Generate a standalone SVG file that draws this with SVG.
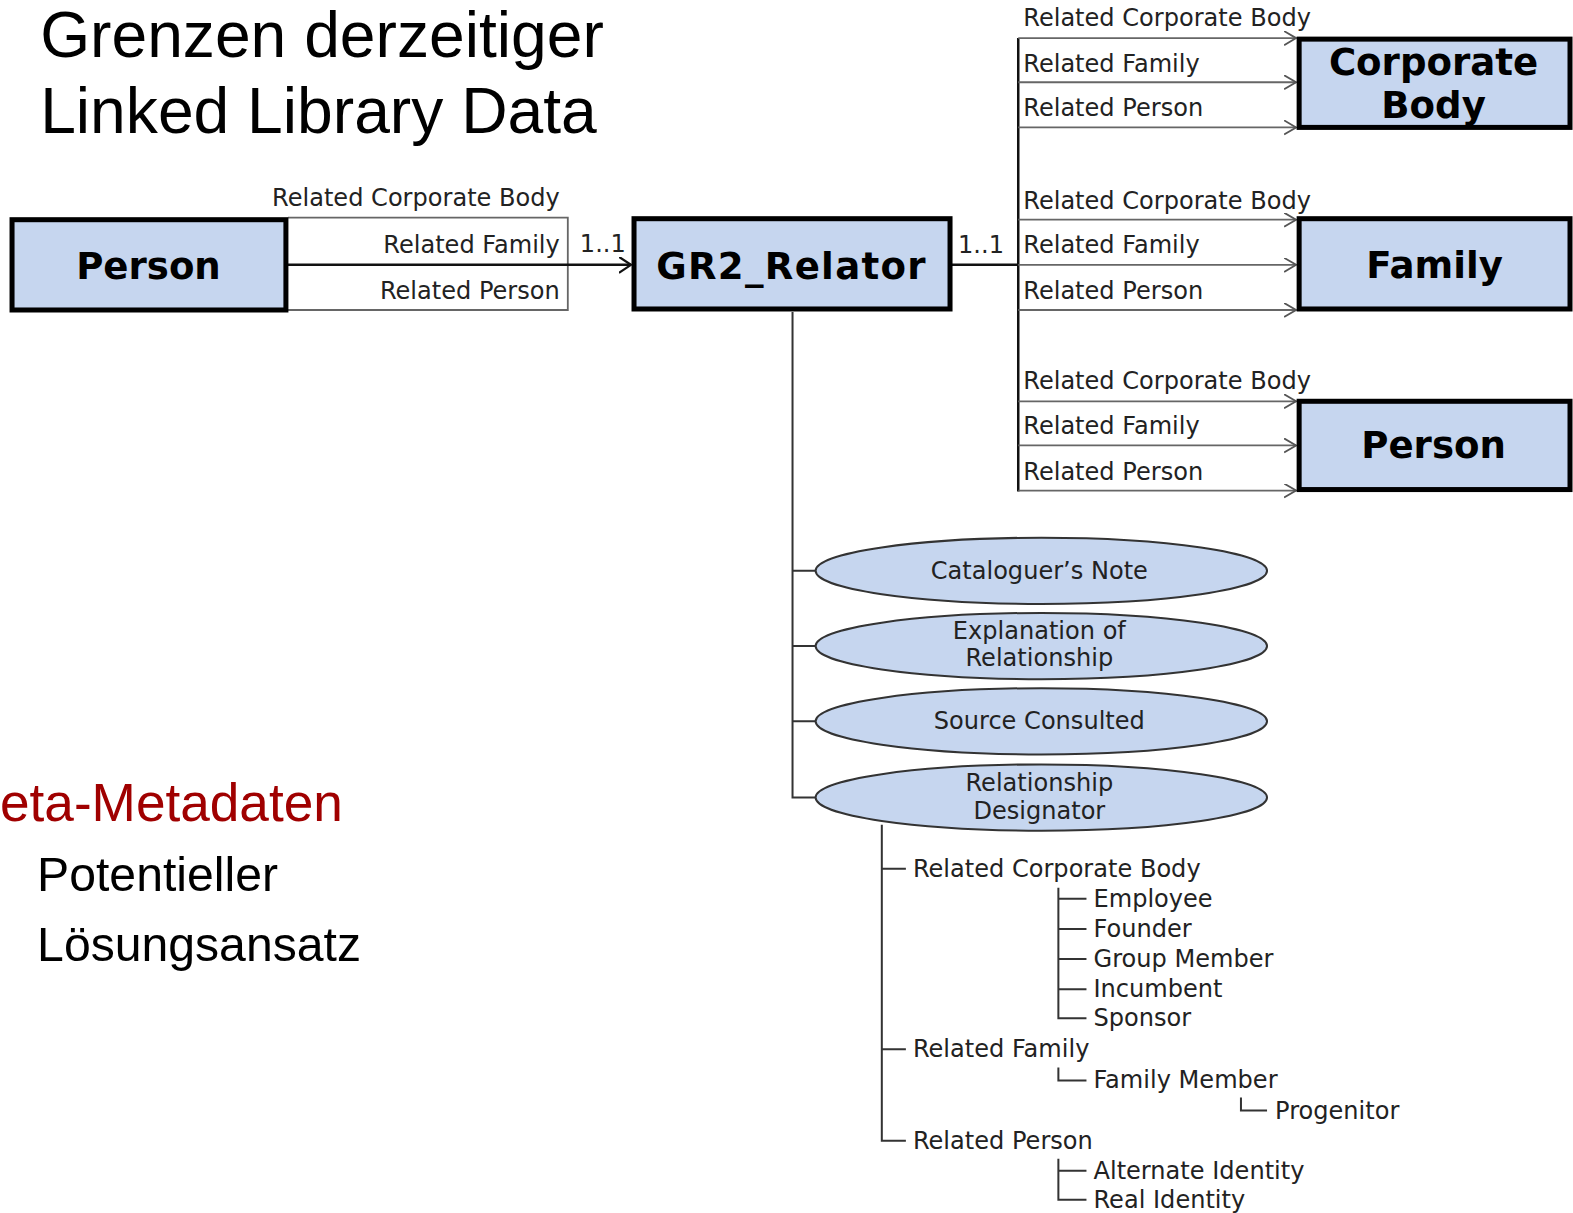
<svg xmlns="http://www.w3.org/2000/svg" width="1573" height="1213" viewBox="0 0 1573 1213">
  <style>
    .title { font-family: "Liberation Sans", Arial, sans-serif; font-size: 64px; fill: #000; }
    .side { font-family: "Liberation Sans", Arial, sans-serif; font-size: 48px; fill: #000; }
    .red { font-family: "Liberation Sans", Arial, sans-serif; font-size: 53px; fill: #a00000; }
    .lbl { font-family: "DejaVu Sans", Verdana, sans-serif; font-size: 24px; fill: #222; }
    .box { fill: #c6d6ef; stroke: #000; stroke-width: 5; }
    .boxtxt { font-family: "DejaVu Sans", Verdana, sans-serif; font-weight: bold; font-size: 37px; fill: #000; text-anchor: middle; }
    .ell { fill: #c6d6ef; stroke: #333; stroke-width: 2; }
    .etxt { font-family: "DejaVu Sans", Verdana, sans-serif; font-size: 24px; fill: #222; text-anchor: middle; }
    .thin { stroke: #666; stroke-width: 1.8; fill: none; }
    .main { stroke: #111; stroke-width: 2.5; fill: none; }
    .tree { stroke: #333; stroke-width: 2; fill: none; }
  </style>
  <defs>
    <marker id="chev" markerUnits="userSpaceOnUse" markerWidth="14" markerHeight="16" refX="12" refY="7" orient="auto">
      <path d="M0,0 L12,7 L0,14" fill="none" stroke="#555" stroke-width="1.8"/>
    </marker>
    <marker id="chevDark" markerUnits="userSpaceOnUse" markerWidth="14" markerHeight="18" refX="12" refY="8" orient="auto">
      <path d="M0,0 L12,8 L0,16" fill="none" stroke="#111" stroke-width="2.2"/>
    </marker>
  </defs>

  <g transform="scale(1.0032)">
  <!-- Headings -->
  <g id="headings">
    <text class="title" x="40" y="57">Grenzen derzeitiger</text>
    <text class="title" x="40" y="133">Linked Library Data</text>
    <text class="red" x="0" y="818">eta-Metadaten</text>
    <text class="side" x="37" y="888">Potentieller</text>
    <text class="side" x="37" y="958">Lösungsansatz</text>
  </g>

  <!-- Connectors -->
  <g id="connectors">
    <!-- left relationship table -->
    <path class="thin" d="M287,217 H566 V309 H287"/>
    <line class="main" x1="287" y1="264" x2="629" y2="264" marker-end="url(#chevDark)"/>
    <!-- relator to target tables -->
    <line class="main" x1="948" y1="264" x2="1015" y2="264"/>
    <line class="main" x1="1015" y1="38" x2="1015" y2="490"/>
    <line class="thin" x1="1015" y1="38" x2="1292" y2="38" marker-end="url(#chev)"/>
    <line class="thin" x1="1015" y1="82" x2="1292" y2="82" marker-end="url(#chev)"/>
    <line class="thin" x1="1015" y1="127" x2="1292" y2="127" marker-end="url(#chev)"/>
    <line class="thin" x1="1015" y1="219" x2="1292" y2="219" marker-end="url(#chev)"/>
    <line class="thin" x1="1015" y1="264" x2="1292" y2="264" marker-end="url(#chev)"/>
    <line class="thin" x1="1015" y1="309" x2="1292" y2="309" marker-end="url(#chev)"/>
    <line class="thin" x1="1015" y1="400" x2="1292" y2="400" marker-end="url(#chev)"/>
    <line class="thin" x1="1015" y1="444" x2="1292" y2="444" marker-end="url(#chev)"/>
    <line class="thin" x1="1015" y1="489" x2="1292" y2="489" marker-end="url(#chev)"/>
    <!-- relator attributes -->
    <path class="tree" d="M790,311 V795 H813 M790,569 H813 M790,644 H813 M790,719 H813"/>
    <!-- designator tree -->
    <path class="tree" d="M879,822 V1137 H903 M879,866 H903 M879,1046 H903"/>
    <path class="tree" d="M1055,885 V1015 H1083 M1055,896 H1083 M1055,926 H1083 M1055,956 H1083 M1055,986 H1083"/>
    <path class="tree" d="M1055,1064 V1077 H1083"/>
    <path class="tree" d="M1237,1094 V1107 H1263"/>
    <path class="tree" d="M1055,1155 V1196 H1083 M1055,1167 H1083"/>
  </g>

  <!-- Relationship labels -->
  <g id="labels">
    <g text-anchor="end">
      <text class="lbl" x="558" y="205">Related Corporate Body</text>
      <text class="lbl" x="558" y="252">Related Family</text>
      <text class="lbl" x="558" y="298">Related Person</text>
    </g>
    <text class="lbl" x="578" y="251">1..1</text>
    <text class="lbl" x="955" y="252">1..1</text>
    <text class="lbl" x="1020" y="26">Related Corporate Body</text>
    <text class="lbl" x="1020" y="72">Related Family</text>
    <text class="lbl" x="1020" y="116">Related Person</text>
    <text class="lbl" x="1020" y="208">Related Corporate Body</text>
    <text class="lbl" x="1020" y="252">Related Family</text>
    <text class="lbl" x="1020" y="298">Related Person</text>
    <text class="lbl" x="1020" y="388">Related Corporate Body</text>
    <text class="lbl" x="1020" y="433">Related Family</text>
    <text class="lbl" x="1020" y="478">Related Person</text>
  </g>

  <!-- Entity boxes -->
  <g id="person-left">
    <rect class="box" x="12" y="219" width="273" height="90"/>
    <text class="boxtxt" x="148" y="278">Person</text>
  </g>
  <g id="gr2-relator">
    <rect class="box" x="632" y="218" width="315" height="90"/>
    <text class="boxtxt" x="789" y="278" letter-spacing="1.3">GR2_Relator</text>
  </g>
  <g id="corporate-body">
    <rect class="box" x="1295" y="39" width="270" height="88"/>
    <text class="boxtxt" x="1429" y="75">Corporate</text>
    <text class="boxtxt" x="1429" y="118">Body</text>
  </g>
  <g id="family">
    <rect class="box" x="1295" y="218" width="270" height="90"/>
    <text class="boxtxt" x="1430" y="277">Family</text>
  </g>
  <g id="person-right">
    <rect class="box" x="1295" y="400" width="270" height="88"/>
    <text class="boxtxt" x="1429" y="457">Person</text>
  </g>

  <!-- Relator attributes -->
  <g id="catalogers-note">
    <ellipse class="ell" cx="1038" cy="569" rx="225" ry="33"/>
    <text class="etxt" x="1036" y="577">Cataloguer’s Note</text>
  </g>
  <g id="explanation">
    <ellipse class="ell" cx="1038" cy="644" rx="225" ry="33"/>
    <text class="etxt" x="1036" y="637">Explanation of</text>
    <text class="etxt" x="1036" y="664">Relationship</text>
  </g>
  <g id="source-consulted">
    <ellipse class="ell" cx="1038" cy="719" rx="225" ry="33"/>
    <text class="etxt" x="1036" y="727">Source Consulted</text>
  </g>
  <g id="designator">
    <ellipse class="ell" cx="1038" cy="795" rx="225" ry="33"/>
    <text class="etxt" x="1036" y="788">Relationship</text>
    <text class="etxt" x="1036" y="816">Designator</text>
  </g>

  <!-- Designator vocabulary -->
  <g id="designator-terms">
    <text class="lbl" x="910" y="874">Related Corporate Body</text>
    <text class="lbl" x="1090" y="904">Employee</text>
    <text class="lbl" x="1090" y="934">Founder</text>
    <text class="lbl" x="1090" y="964">Group Member</text>
    <text class="lbl" x="1090" y="994">Incumbent</text>
    <text class="lbl" x="1090" y="1023">Sponsor</text>
    <text class="lbl" x="910" y="1054">Related Family</text>
    <text class="lbl" x="1090" y="1085">Family Member</text>
    <text class="lbl" x="1271" y="1115">Progenitor</text>
    <text class="lbl" x="910" y="1145">Related Person</text>
    <text class="lbl" x="1090" y="1175">Alternate Identity</text>
    <text class="lbl" x="1090" y="1204">Real Identity</text>
  </g>
  </g>
</svg>
